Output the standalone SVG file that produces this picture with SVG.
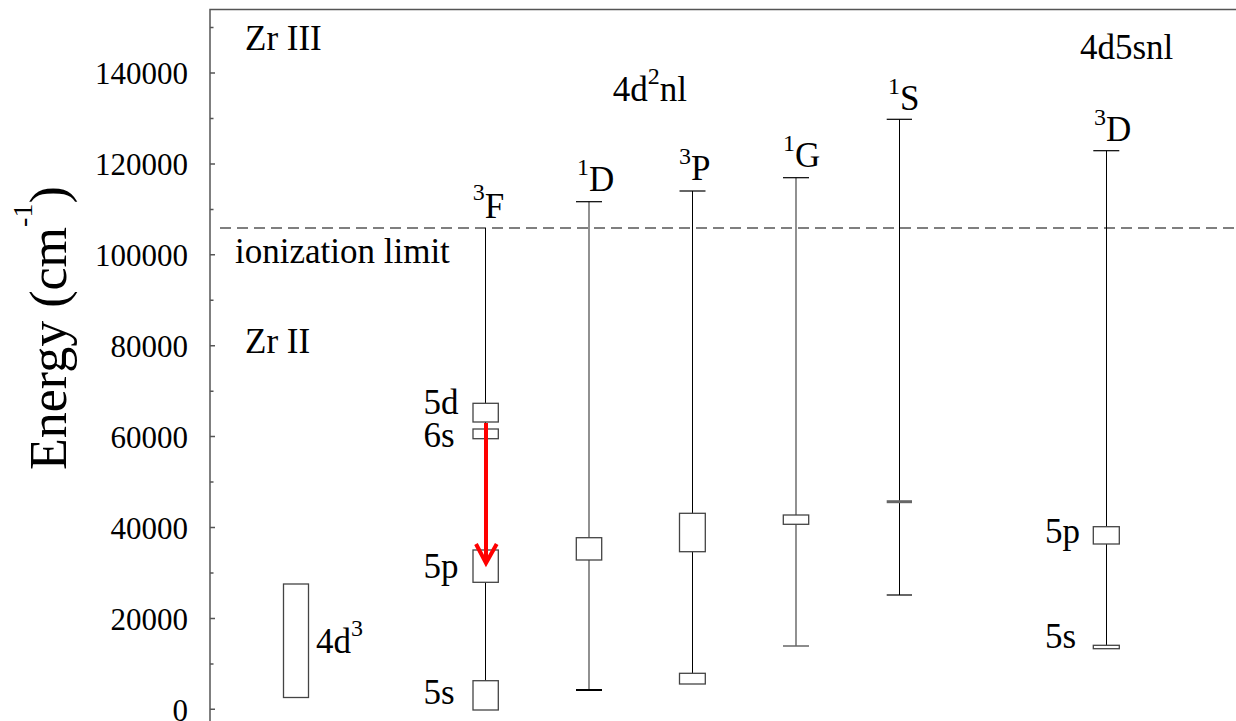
<svg xmlns="http://www.w3.org/2000/svg" width="1236" height="721" viewBox="0 0 1236 721">
<style>
text{font-family:"Liberation Serif","Times New Roman",serif;fill:#000}
.tick{font-size:31px;text-anchor:end}
.lbl{font-size:35px}
.sup{font-size:24px}
.vl{stroke:#000;stroke-width:1;fill:none}
.vg{stroke:#555;stroke-width:1.3;fill:none}
.cap{stroke:#000;stroke-width:1.2}
.capg{stroke:#666;stroke-width:1.5}
.box{fill:#fff;stroke:#444;stroke-width:1.3}
.ax{stroke:#555;stroke-width:1.5;fill:none}
.red{stroke:#ff0000;stroke-width:4;fill:none}
</style>
<rect width="1236" height="721" fill="#fff"/>
<g id="axes">
<path class="ax" d="M210,721 V9.5 H1236"/>
<path class="ax" d="M210,709.3h5 M210,618.4h5 M210,527.5h5 M210,436.6h5 M210,345.7h5 M210,254.8h5 M210,163.9h5 M210,73h5 M210,663.9h3.5 M210,573h3.5 M210,482.1h3.5 M210,391.2h3.5 M210,300.3h3.5 M210,209.4h3.5 M210,118.5h3.5 M210,27.6h3.5"/>
<text class="tick" x="188" y="720.5">0</text>
<text class="tick" x="188" y="629.6">20000</text>
<text class="tick" x="188" y="538.7">40000</text>
<text class="tick" x="188" y="447.8">60000</text>
<text class="tick" x="188" y="356.9">80000</text>
<text class="tick" x="188" y="266">100000</text>
<text class="tick" x="188" y="175.1">120000</text>
<text class="tick" x="188" y="84.2">140000</text>
<text transform="translate(66,470) rotate(-90)" font-size="52">Energy (cm<tspan font-size="28" dy="-34">-1</tspan><tspan dy="34">)</tspan></text>
</g>
<g id="limit">
<line x1="220" y1="228" x2="1236" y2="228" stroke="#555" stroke-width="1.3" stroke-dasharray="11,6"/>
<text class="lbl" x="235" y="263">ionization limit</text>
</g>
<g id="titles">
<text class="lbl" x="245" y="50">Zr III</text>
<text class="lbl" x="245" y="353">Zr II</text>
<text class="lbl" x="612.7" y="100.7">4d<tspan class="sup" dy="-17">2</tspan><tspan dy="17">nl</tspan></text>
<text class="lbl" x="1080" y="59.3">4d5snl</text>
</g>
<g id="zr2-4d3">
<rect class="box" x="283.5" y="584" width="25" height="113.5"/>
<text class="lbl" x="316" y="653.3">4d<tspan class="sup" dy="-17">3</tspan></text>
</g>
<g id="term-3F">
<line class="vl" x1="485.5" y1="228" x2="485.5" y2="681"/>
<rect class="box" x="473" y="403.3" width="25.3" height="18.7"/>
<rect class="box" x="473" y="429" width="25.3" height="9.7"/>
<rect class="box" x="473" y="550" width="25.3" height="32.3"/>
<rect class="box" x="473" y="680.7" width="25.3" height="29.3"/>
<text class="lbl" x="472.7" y="217.7"><tspan class="sup" dy="-18">3</tspan><tspan dy="18">F</tspan></text>
<text class="lbl" x="423.5" y="414">5d</text>
<text class="lbl" x="423.5" y="446.7">6s</text>
<text class="lbl" x="423.5" y="577.5">5p</text>
<text class="lbl" x="423.5" y="704.3">5s</text>
</g>
<g id="term-1D">
<line class="vg" x1="589" y1="201.7" x2="589" y2="690"/>
<line class="cap" x1="576" y1="201.7" x2="602" y2="201.7"/>
<line x1="576" y1="690" x2="602" y2="690" stroke="#000" stroke-width="2"/>
<rect class="box" x="576.3" y="537.7" width="25.4" height="22.3"/>
<text class="lbl" x="577" y="191"><tspan class="sup" dy="-16">1</tspan><tspan dy="16">D</tspan></text>
</g>
<g id="term-3P">
<line class="vl" x1="692.5" y1="191" x2="692.5" y2="673.3"/>
<line class="cap" x1="679.5" y1="191" x2="705.5" y2="191"/>
<rect class="box" x="679.5" y="513.3" width="25.8" height="38.4"/>
<rect class="box" x="679.5" y="673.3" width="25.8" height="10.7"/>
<text class="lbl" x="679" y="180"><tspan class="sup" dy="-16">3</tspan><tspan dy="16">P</tspan></text>
</g>
<g id="term-1G">
<line class="vg" x1="796" y1="177.7" x2="796" y2="646"/>
<line class="cap" x1="783" y1="177.7" x2="809" y2="177.7"/>
<line class="capg" x1="783" y1="646" x2="809" y2="646"/>
<rect class="box" x="783.3" y="515" width="25.4" height="9.3"/>
<text class="lbl" x="783" y="167"><tspan class="sup" dy="-16">1</tspan><tspan dy="16">G</tspan></text>
</g>
<g id="term-1S">
<line class="vl" x1="899.5" y1="119.3" x2="899.5" y2="595"/>
<line class="cap" x1="886.7" y1="119.3" x2="912" y2="119.3"/>
<line class="cap" x1="886.7" y1="595" x2="912" y2="595"/>
<line x1="886.7" y1="501.7" x2="912" y2="501.7" stroke="#666" stroke-width="3"/>
<text class="lbl" x="888" y="110"><tspan class="sup" dy="-16">1</tspan><tspan dy="16">S</tspan></text>
</g>
<g id="term-3D">
<line class="vl" x1="1106.5" y1="150.7" x2="1106.5" y2="645.3"/>
<line class="cap" x1="1093.3" y1="150.7" x2="1119.3" y2="150.7"/>
<rect class="box" x="1093.3" y="526.7" width="26" height="17.3"/>
<rect class="box" x="1093.3" y="645.3" width="26" height="3.4"/>
<text class="lbl" x="1094" y="140.5"><tspan class="sup" dy="-16">3</tspan><tspan dy="16">D</tspan></text>
<text class="lbl" x="1045" y="543.3">5p</text>
<text class="lbl" x="1045" y="648.3">5s</text>
</g>
<g id="connectors">
<line class="red" x1="486" y1="423" x2="486" y2="561"/>
<polyline class="red" points="476,544 486,563 496.7,544" stroke-linejoin="miter"/>
</g>
</svg>
